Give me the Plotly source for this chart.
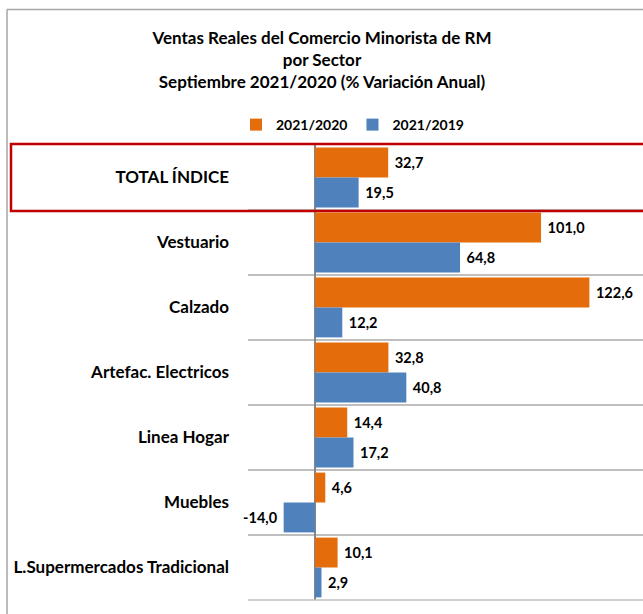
import plotly.graph_objects as go

categories = ["TOTAL ÍNDICE", "Vestuario", "Calzado", "Artefac. Electricos",
              "Linea Hogar", "Muebles", "L.Supermercados Tradicional"]
series_names = ["2021/2020", "2021/2019"]
values_2020 = [32.7, 101.0, 122.6, 32.8, 14.4, 4.6, 10.1]
values_2019 = [19.5, 64.8, 12.2, 40.8, 17.2, -14.0, 2.9]

ORANGE = "#E46C0A"
BLUE = "#4F81BD"
FONT = "Lato, Calibri, Carlito, sans-serif"

FIG_W, FIG_H = 643, 614
# plot area in window pixels
L, R, T, B = 248, 643, 145, 600
ZERO_X, PX_PER_UNIT = 315, 2.238


def px(x):
    return (x - L) / (R - L)


def py(y):
    return (B - y) / (B - T)


def label_templates(vals):
    return ["%{x:.1f}\u00a0" if v < 0 else "\u00a0%{x:.1f}" for v in vals]


fig = go.Figure()
for name, vals, col in [(series_names[0], values_2020, ORANGE),
                        (series_names[1], values_2019, BLUE)]:
    fig.add_trace(go.Bar(
        y=categories, x=vals, name=name, orientation="h",
        marker=dict(color=col, line=dict(width=0)),
        texttemplate=label_templates(vals), textposition="outside",
        textfont=dict(family=FONT, size=14.5, color="black", weight="bold"),
        cliponaxis=False,
    ))

fig.update_layout(
    width=FIG_W, height=FIG_H,
    margin=dict(l=L, r=FIG_W - R, t=T, b=FIG_H - B, pad=0),
    paper_bgcolor="white", plot_bgcolor="white",
    separators=",.",
    barmode="group", bargap=0.08, bargroupgap=0,
    font=dict(family=FONT, size=15, color="black"),
    title=dict(
        text="<b>Ventas Reales del Comercio Minorista de RM<br>por Sector<br>Septiembre 2021/2020 (% Variación Anual)</b>",
        x=322 / FIG_W, xanchor="center", y=1 - 44 / FIG_H, yanchor="top",
        font=dict(family=FONT, size=17, color="black"),
    ),
    legend=dict(orientation="h", x=px(236), xanchor="left", y=py(125), yanchor="middle",
                font=dict(family=FONT, size=14, color="black", weight="bold"),
                traceorder="normal", itemwidth=30, bgcolor="rgba(0,0,0,0)"),
    showlegend=True,
    xaxis=dict(range=[(L - ZERO_X) / PX_PER_UNIT, (R - ZERO_X) / PX_PER_UNIT],
               showgrid=False, showticklabels=False,
               zeroline=True, zerolinecolor="#868686", zerolinewidth=1.5,
               showline=False, ticks=""),
    yaxis=dict(autorange="reversed", type="category", tickson="boundaries",
               showgrid=True, gridcolor="#BFBFBF", gridwidth=1.5,
               ticks="", ticklabelstandoff=18,
               tickfont=dict(family=FONT, size=17, color="black", weight="bold"),
               showline=False),
    shapes=[
        dict(type="line", xref="paper", yref="paper", x0=px(7), x1=px(660),
             y0=py(9.5), y1=py(9.5), line=dict(color="#A6A6A6", width=1.5)),
        dict(type="line", xref="paper", yref="paper", x0=px(7), x1=px(7),
             y0=py(9.5), y1=py(630), line=dict(color="#A6A6A6", width=1.5)),
        dict(type="line", xref="paper", yref="paper", x0=0, x1=1,
             y0=0, y1=0, line=dict(color="#BFBFBF", width=1.5)),
        dict(type="rect", xref="paper", yref="paper", x0=px(11), x1=px(670),
             y0=py(211), y1=py(144), line=dict(color="#C00000", width=2.5)),
    ],
)

fig.write_html("out.html",
               config={"displayModeBar": False},
               post_script="document.body.style.margin='0';document.body.style.overflow='hidden';")
